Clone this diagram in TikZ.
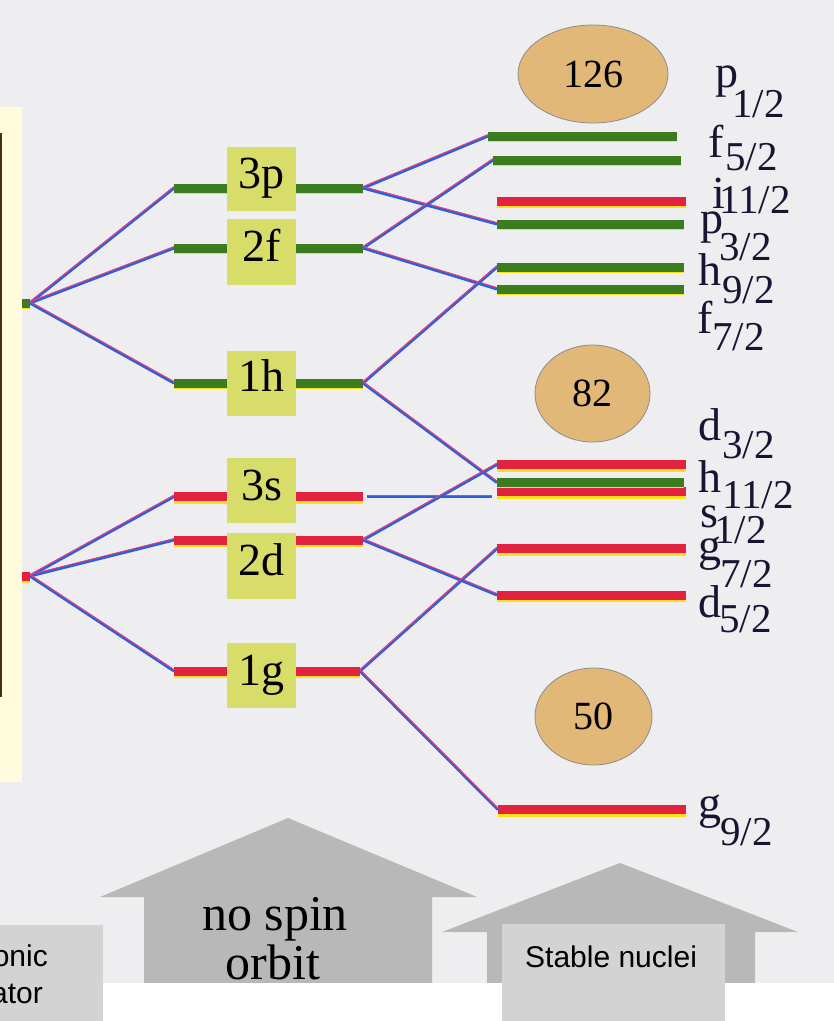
\documentclass[tikz,border=0pt]{standalone}
\usepackage{fontspec}
\setmainfont{Liberation Serif}
\newfontfamily\sansf{Liberation Sans}
\usetikzlibrary{shapes.geometric}
\definecolor{paper}{RGB}{238,238,240}
\definecolor{paleyel}{RGB}{255,252,222}
\definecolor{darkln}{RGB}{70,48,20}
\definecolor{grn}{RGB}{58,124,30}
\definecolor{redb}{RGB}{226,34,62}
\definecolor{yel}{RGB}{250,226,20}
\definecolor{lbox}{RGB}{216,220,105}
\definecolor{shellc}{RGB}{226,184,120}
\definecolor{blu}{RGB}{45,95,215}
\definecolor{mag}{RGB}{235,60,130}
\definecolor{arrg}{RGB}{184,184,184}
\definecolor{pbox}{RGB}{211,211,211}
\definecolor{ink}{RGB}{22,22,50}
\tikzset{
  gbarst/.style={fill=grn, inner sep=0pt, outer sep=0pt, minimum height=9pt},
  rbarst/.style={fill=redb, inner sep=0pt, outer sep=0pt, minimum height=9pt},
  lvlbox/.style={fill=lbox, inner sep=0pt, outer sep=0pt, minimum width=69pt},
  lvltxt/.style={inner sep=0pt, anchor=base, font=\fontsize{46}{46}\selectfont},
  shell/.style={ellipse, fill=shellc, draw=black!45, line width=0.8pt, inner sep=0pt, font=\fontsize{40}{40}\selectfont},
  linkb/.style={draw=blu, line width=3pt},
  linkp/.style={draw=mag, line width=1pt},
  orbl/.style={inner sep=0pt, anchor=base west, text=ink, font=\fontsize{46}{46}\selectfont},
  orbs/.style={inner sep=0pt, anchor=base west, text=ink, font=\fontsize{41}{41}\selectfont},
  bigarrow/.style={fill=arrg},
  capbox/.style={fill=pbox, inner sep=0pt, outer sep=0pt},
  captxt/.style={inner sep=0pt, font=\sansf\fontsize{30}{30}\selectfont},
  nsotxt/.style={inner sep=0pt, anchor=base, font=\fontsize{50}{50}\selectfont}
}
\newcommand\gbar[4]{\node[gbarst, minimum width=#4pt] (#1) at (#2,#3) {};
  \fill[yel] (#1.south west) rectangle ([yshift=-1pt]#1.south east);}
\newcommand\rbar[4]{\node[rbarst, minimum width=#4pt] (#1) at (#2,#3) {};
  \fill[yel] (#1.south west) rectangle ([yshift=-2.5pt]#1.south east);}
\newcommand\link[3][]{\draw[linkb,#1] (#2) -- (#3);
  \draw[linkp,#1] ([yshift=1.4pt]#2) -- ([yshift=1.4pt]#3);}
\newcommand\orb[7]{\node[orbl] (#1) at (#3,#4) {#2};
  \node[orbs] (#1s) at (#6-3,#7) {#5};}
\begin{document}
\begin{tikzpicture}[x=1pt,y=-1pt]
\useasboundingbox (0,0) rectangle (834,1021);
\fill[paper] (0,0) rectangle (834,1021);
% left strip
\fill[paleyel] (0,107) rectangle (22,782);
\fill[darkln] (0,133) rectangle (2,697);
% big arrows
\fill[bigarrow] (144,983) -- (144,897) -- (100,897) -- (288,818) -- (477,897) -- (432,897) -- (432,983) -- cycle;
\fill[bigarrow] (487,983) -- (487,932) -- (442,932) -- (620,863) -- (798,932) -- (755,932) -- (755,983) -- cycle;
\node[nsotxt] (nso1) at (275,930) {no spin};
\node[nsotxt] (nso2) at (273,979) {orbit};
% white bottom and caption boxes
\fill[white] (103,983) rectangle (834,1021);
\node[capbox, minimum width=103pt, minimum height=96pt] (hbox) at (51.5,973) {};
\node[captxt, anchor=base east] (h1) at (48,966) {onic};
\node[captxt, anchor=base east] (h2) at (43,1003) {ator};
\node[capbox, minimum width=223pt, minimum height=97pt] (sbox) at (613.5,972.5) {};
\node[captxt, anchor=base west] (stab) at (525,967) {Stable nuclei};
% left stubs
\gbar{L1}{26}{303}{8}
\rbar{L2}{26}{576}{8}
% middle levels
\gbar{m3p}{200.5}{188}{53} \gbar{n3p}{329.5}{188}{67}
\gbar{m2f}{200.5}{248}{53} \gbar{n2f}{329.5}{248}{67}
\gbar{m1h}{200.5}{383}{53} \gbar{n1h}{329.5}{383}{67}
\rbar{m3s}{200.5}{496.5}{53} \rbar{n3s}{329.5}{496.5}{67}
\rbar{m2d}{200.5}{540}{53} \rbar{n2d}{329.5}{540}{67}
\rbar{m1g}{200.5}{671}{53} \rbar{n1g}{328}{671}{64}
\node[lvlbox, minimum height=64pt] (b3p) at (261.5,179) {};
\node[lvlbox, minimum height=66pt] (b2f) at (261.5,252) {};
\node[lvlbox, minimum height=65pt] (b1h) at (261.5,383.5) {};
\node[lvlbox, minimum height=65pt] (b3s) at (261.5,490.5) {};
\node[lvlbox, minimum height=66pt] (b2d) at (261.5,566) {};
\node[lvlbox, minimum height=65pt] (b1g) at (261.5,675.5) {};
\node[lvltxt] (t3p) at (261.5,188) {3p};
\node[lvltxt] (t2f) at (261.5,261) {2f};
\node[lvltxt] (t1h) at (261.5,391) {1h};
\node[lvltxt] (t3s) at (261.5,500) {3s};
\node[lvltxt] (t2d) at (261.5,575) {2d};
\node[lvltxt] (t1g) at (261.5,685) {1g};
% right levels
\gbar{r1}{582.5}{136}{189}
\gbar{r2}{587}{160}{188}
\rbar{r3}{591.5}{201}{189}
\gbar{r4}{590.5}{224}{187}
\gbar{r5}{590.5}{267}{187}
\gbar{r6}{590.5}{289}{187}
\rbar{r7}{591.5}{464.5}{189}
\rbar{r9}{591.5}{491.5}{189}
\gbar{r8}{590.5}{482.5}{187}
\rbar{r10}{591.5}{548.5}{189}
\rbar{r11}{591.5}{595}{189}
\rbar{r12}{592}{809.5}{188}
% shells
\node[shell, minimum width=150pt, minimum height=98pt] (e126) at (593,74) {126};
\node[shell, minimum width=115pt, minimum height=97pt] (e82) at (592.5,393.5) {82};
\node[shell, minimum width=117pt, minimum height=97pt] (e50) at (593.5,716.5) {50};
% connectors
\link{L1.east}{m3p.west}
\link{L1.east}{m2f.west}
\link{L1.east}{m1h.west}
\link{L2.east}{m3s.west}
\link{L2.east}{m2d.west}
\link{L2.east}{m1g.west}
\link{n3p.east}{r1.west}
\link{n3p.east}{r4.west}
\link{n2f.east}{r2.west}
\link{n2f.east}{r6.west}
\link{n1h.east}{r5.west}
\link{n1h.east}{r8.west}
\coordinate (e3s) at (n3s.east -| r9.west);
\link[shorten <=4pt, shorten >=5pt]{n3s.east}{e3s}
\link{n2d.east}{r7.west}
\link{n2d.east}{r11.west}
\link{n1g.east}{r10.west}
\link{n1g.east}{r12.west}
% orbital labels
\orb{o1}{p}{715}{87}{1/2}{735}{117}
\orb{o2}{f}{708}{157}{5/2}{728}{170}
\orb{o3}{i}{712}{208}{11/2}{722}{213}
\orb{o4}{p}{700}{233}{3/2}{722}{260}
\orb{o5}{h}{698}{285}{9/2}{725}{303}
\orb{o6}{f}{697}{333}{7/2}{715}{350}
\orb{o7}{d}{698}{440}{3/2}{725}{458}
\orb{o8}{h}{698}{492}{11/2}{725}{508}
\orb{o9}{s}{700}{527}{1/2}{717}{543}
\orb{o10}{g}{698}{560}{7/2}{723}{587}
\orb{o11}{d}{698}{617}{5/2}{722}{632}
\orb{o12}{g}{698}{818}{9/2}{723}{845}
\end{tikzpicture}
\end{document}
